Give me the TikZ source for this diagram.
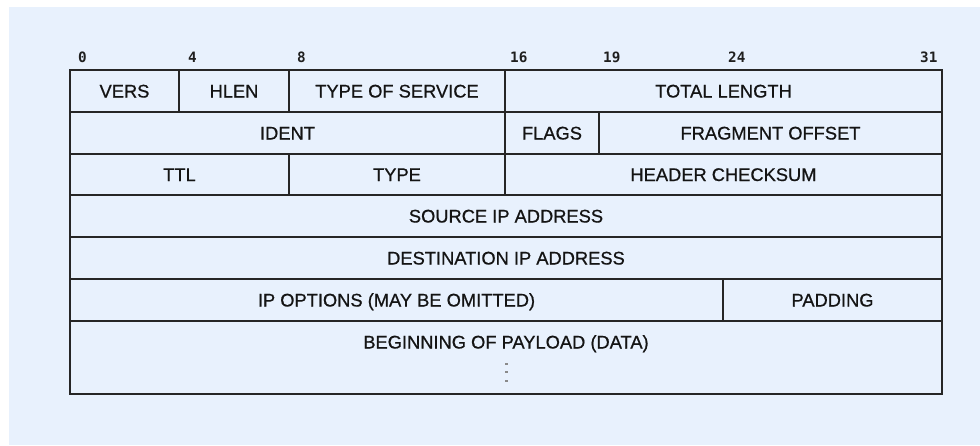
\documentclass[tikz,border=0pt]{standalone}
\usepackage{fontspec}
\setmainfont{Liberation Sans}
\newfontfamily\cellfont[FakeBold=0.7]{Liberation Sans}
\newfontfamily\bitfont{DejaVu Sans Mono}
\definecolor{bgblue}{HTML}{E8F1FD}
\definecolor{linegray}{HTML}{262626}
\definecolor{dotgray}{HTML}{8A8A8A}
\tikzset{
  cellbox/.style={draw=linegray, line width=1.5pt, inner sep=0pt, outer sep=0pt,
    font=\cellfont\fontsize{18.3}{21}\selectfont, text=black!92, text height=13pt, text depth=0pt},
  bitlabel/.style={anchor=base west, inner sep=0pt, font=\bitfont\bfseries\fontsize{14.3}{16}\selectfont, text=black!88},
  plainlabel/.style={inner sep=0pt, font=\cellfont\fontsize{18.3}{21}\selectfont, text=black!92, text height=13pt, text depth=0pt}
}
\newcommand\fieldcell[6]{%
  \node[cellbox, minimum width={#3pt-#2pt}, minimum height={#5pt-#4pt}] (#1) at ({(#2+#3)/2},{(#4+#5)/2}) {#6};}
\begin{document}
\begin{tikzpicture}[x=1pt, y=-1pt]
\useasboundingbox (0,0) rectangle (980,445);
\fill[bgblue] (9,7) rectangle (980,445);
% bit position labels
\node[bitlabel] (b0)  at (78,62)  {0};
\node[bitlabel] (b4)  at (188,62) {4};
\node[bitlabel] (b8)  at (297,62) {8};
\node[bitlabel] (b16) at (510,62) {16};
\node[bitlabel] (b19) at (603,62) {19};
\node[bitlabel] (b24) at (728,62) {24};
\node[bitlabel] (b31) at (920,62) {31};
% row 1
\fieldcell{vers}{70}{179}{70}{112}{VERS}
\fieldcell{hlen}{179}{289}{70}{112}{HLEN}
\fieldcell{tos}{289}{505}{70}{112}{TYPE OF SERVICE}
\fieldcell{totlen}{505}{942}{70}{112}{TOTAL LENGTH}
% row 2
\fieldcell{ident}{70}{505}{112}{154}{IDENT}
\fieldcell{flags}{505}{599}{112}{154}{FLAGS}
\fieldcell{fragoff}{599}{942}{112}{154}{FRAGMENT OFFSET}
% row 3
\fieldcell{ttl}{70}{289}{154}{195}{TTL}
\fieldcell{type}{289}{505}{154}{195}{TYPE}
\fieldcell{hcheck}{505}{942}{154}{195}{HEADER CHECKSUM}
% row 4-5
\fieldcell{srcip}{70}{942}{195}{237}{SOURCE IP ADDRESS}
\fieldcell{dstip}{70}{942}{237}{279}{DESTINATION IP ADDRESS}
% row 6
\fieldcell{ipopt}{70}{723}{279}{321}{IP OPTIONS (MAY BE OMITTED)}
\fieldcell{padding}{723}{942}{279}{321}{PADDING}
% row 7
\fieldcell{payload}{70}{942}{321}{394}{}
\node[plainlabel] (payloadtext) at (506,342) {BEGINNING OF PAYLOAD (DATA)};
\fill[dotgray] (505,362.5) rectangle (508,364.5);
\fill[dotgray] (505,371) rectangle (508,373);
\fill[dotgray] (505,379.5) rectangle (508,381.5);
\end{tikzpicture}
\end{document}
